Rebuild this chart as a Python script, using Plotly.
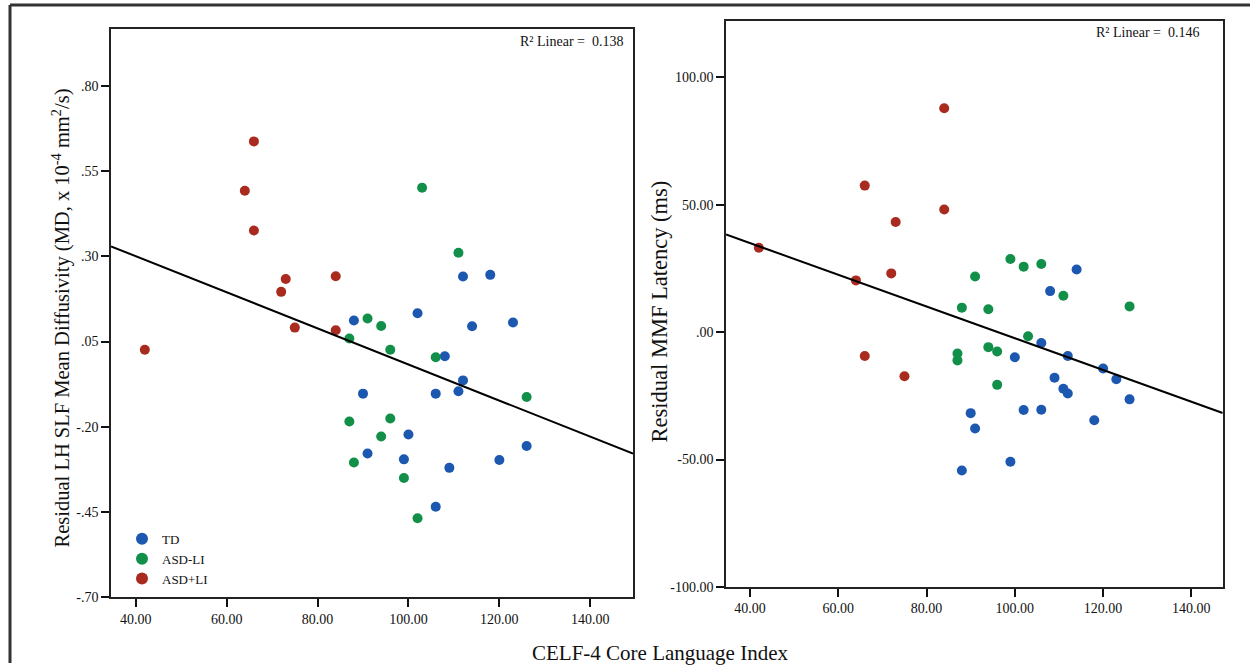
import numpy as np
import plotly.graph_objects as go

# ---------------- data ----------------
groups = ["TD", "ASD-LI", "ASD+LI"]
colors = {"TD": "#1c57b0", "ASD-LI": "#12904a", "ASD+LI": "#a92b20"}

# Left panel: CELF-4 vs residual LH SLF MD
md_td_x = [112, 118, 102, 88, 114, 123, 108, 112, 90, 106, 111, 100, 91, 99, 109, 120, 126, 106]
md_td_y = [0.241, 0.246, 0.133, 0.112, 0.095, 0.106, 0.007, -0.064, -0.103, -0.103, -0.096,
           -0.223, -0.279, -0.296, -0.321, -0.298, -0.257, -0.435]
md_asdli_x = [103, 111, 91, 94, 87, 96, 106, 126, 87, 96, 94, 88, 99, 102]
md_asdli_y = [0.502, 0.311, 0.118, 0.096, 0.059, 0.026, 0.004, -0.113, -0.185, -0.176,
              -0.229, -0.305, -0.351, -0.469]
md_asdpli_x = [66, 64, 66, 73, 72, 84, 75, 84, 42]
md_asdpli_y = [0.638, 0.493, 0.376, 0.234, 0.196, 0.242, 0.091, 0.083, 0.026]

# Right panel: CELF-4 vs residual MMF latency
mmf_td_x = [114, 108, 106, 100, 112, 120, 123, 109, 111, 112, 126, 102, 106, 90, 91, 118, 99, 88]
mmf_td_y = [24.6, 16.1, -4.3, -9.9, -9.4, -14.3, -18.5, -17.9, -22.2, -24.1, -26.4,
            -30.6, -30.5, -31.8, -37.8, -34.6, -50.9, -54.3]
mmf_asdli_x = [99, 106, 102, 91, 111, 126, 88, 94, 103, 94, 96, 87, 87, 96]
mmf_asdli_y = [28.7, 26.7, 25.7, 21.8, 14.3, 10.1, 9.6, 9.0, -1.6, -5.9, -7.6, -8.4, -11.1, -20.7]
mmf_asdpli_x = [84, 66, 84, 73, 42, 72, 64, 66, 75]
mmf_asdpli_y = [87.9, 57.5, 48.1, 43.2, 33.1, 23.05, 20.3, -9.4, -17.3]

r2_left = "0.138"
r2_right = "0.146"

x_ticks = [40, 60, 80, 100, 120, 140]
x_ticktext = ["40.00", "60.00", "80.00", "100.00", "120.00", "140.00"]
md_ticks = [0.80, 0.55, 0.30, 0.05, -0.20, -0.45, -0.70]
md_ticktext = [".80", ".55", ".30", ".05", "-.20", "-.45", "-.70"]
mmf_ticks = [100, 50, 0, -50, -100]
mmf_ticktext = ["100.00", "50.00", ".00", "-50.00", "-100.00"]

# ---------------- figure ----------------
W, H = 1250, 671
H_EFF = 662  # effective rendered height used for paper-fraction placement
FONT = "Liberation Serif, Times New Roman, serif"

def px_x(p):
    return p / W

def px_y(p):
    return 1 - p / H_EFF

fig = go.Figure()

left_sets = {"TD": (md_td_x, md_td_y), "ASD-LI": (md_asdli_x, md_asdli_y),
             "ASD+LI": (md_asdpli_x, md_asdpli_y)}
right_sets = {"TD": (mmf_td_x, mmf_td_y), "ASD-LI": (mmf_asdli_x, mmf_asdli_y),
              "ASD+LI": (mmf_asdpli_x, mmf_asdpli_y)}

xr_left = [34.56, 149.4]
xr_right = [34.56, 147.1]

for g in groups:
    xs, ys = left_sets[g]
    fig.add_trace(go.Scatter(x=xs, y=ys, mode="markers", name=g, xaxis="x", yaxis="y",
                             marker=dict(color=colors[g], size=10, line=dict(width=0)),
                             showlegend=True, legendgroup=g))
for g in groups:
    xs, ys = right_sets[g]
    fig.add_trace(go.Scatter(x=xs, y=ys, mode="markers", name=g, xaxis="x2", yaxis="y2",
                             marker=dict(color=colors[g], size=10, line=dict(width=0)),
                             showlegend=False, legendgroup=g))

# fit lines (OLS over all points of each panel)
def fit_line(sets, xr):
    allx = np.concatenate([np.array(sets[g][0], float) for g in groups])
    ally = np.concatenate([np.array(sets[g][1], float) for g in groups])
    b, a = np.polyfit(allx, ally, 1)
    xx = np.array(xr)
    return xx, a + b * xx

lx, ly = fit_line(left_sets, xr_left)
rx, ry = fit_line(right_sets, xr_right)
fig.add_trace(go.Scatter(x=lx, y=ly, mode="lines", xaxis="x", yaxis="y",
                         line=dict(color="black", width=2), showlegend=False, hoverinfo="skip"))
fig.add_trace(go.Scatter(x=rx, y=ry, mode="lines", xaxis="x2", yaxis="y2",
                         line=dict(color="black", width=2), showlegend=False, hoverinfo="skip"))

axis_common = dict(showline=True, mirror=True, linecolor="#222", linewidth=1.6,
                   ticks="outside", ticklen=8, tickwidth=2, tickcolor="#111",
                   showgrid=False, zeroline=False,
                   tickfont=dict(family=FONT, size=14, color="#111"))

fig.update_layout(
    width=W, height=H, autosize=False,
    paper_bgcolor="white", plot_bgcolor="white",
    margin=dict(l=0, r=0, t=0, b=0),
    font=dict(family=FONT, color="#111"),
    xaxis=dict(domain=[px_x(111), px_x(633)], range=xr_left, anchor="y",
               tickvals=x_ticks, ticktext=x_ticktext, **axis_common),
    yaxis=dict(domain=[px_y(596), px_y(29)], range=[-0.70, 0.968], anchor="x",
               tickvals=md_ticks, ticktext=md_ticktext, **axis_common),
    xaxis2=dict(domain=[px_x(726), px_x(1222.7)], range=xr_right, anchor="y2",
                tickvals=x_ticks, ticktext=x_ticktext, **axis_common),
    yaxis2=dict(domain=[px_y(586), px_y(21)], range=[-100, 122.1], anchor="x2",
                tickvals=mmf_ticks, ticktext=mmf_ticktext, **axis_common),
    legend=dict(x=px_x(122), y=px_y(523), xanchor="left", yanchor="top",
                bgcolor="rgba(0,0,0,0)", font=dict(family=FONT, size=13, color="#111"),
                itemsizing="constant", tracegroupgap=0),
    showlegend=True,
)

annotations = [
    dict(text="R² Linear =  " + r2_left, xref="paper", yref="paper",
         x=px_x(625), y=px_y(41), xanchor="right", yanchor="middle",
         showarrow=False, font=dict(family=FONT, size=14, color="#111")),
    dict(text="R² Linear =  " + r2_right, xref="paper", yref="paper",
         x=px_x(1201), y=px_y(32), xanchor="right", yanchor="middle",
         showarrow=False, font=dict(family=FONT, size=14, color="#111")),
    dict(text="Residual LH SLF Mean Diffusivity (MD, x 10<sup>-4</sup> mm<sup>2</sup>/s)",
         xref="paper", yref="paper", x=px_x(61), y=px_y(318), textangle=-90,
         xanchor="center", yanchor="middle", showarrow=False,
         font=dict(family=FONT, size=20.5, color="#111")),
    dict(text="Residual MMF Latency (ms)",
         xref="paper", yref="paper", x=px_x(659), y=px_y(311), textangle=-90,
         xanchor="center", yanchor="middle", showarrow=False,
         font=dict(family=FONT, size=22.5, color="#111")),
    dict(text="CELF-4 Core Language Index",
         xref="paper", yref="paper", x=px_x(660), y=px_y(652),
         xanchor="center", yanchor="middle", showarrow=False,
         font=dict(family=FONT, size=21, color="#111")),
]
fig.update_layout(annotations=annotations)

shapes = [
    dict(type="line", xref="paper", yref="paper", x0=px_x(10), x1=1.0, y0=px_y(5), y1=px_y(5),
         line=dict(color="#333", width=3)),
    dict(type="line", xref="paper", yref="paper", x0=px_x(10), x1=px_x(10), y0=px_y(5), y1=0,
         line=dict(color="#333", width=3)),
]
fig.update_layout(shapes=shapes)

post = ("var s=document.documentElement.style;s.margin='0';s.padding='0';s.overflow='hidden';"
        "var b=document.body.style;b.margin='0';b.padding='0';b.overflow='hidden';")
fig.write_html("out.html", config={"responsive": False, "displayModeBar": False},
               post_script=post)
